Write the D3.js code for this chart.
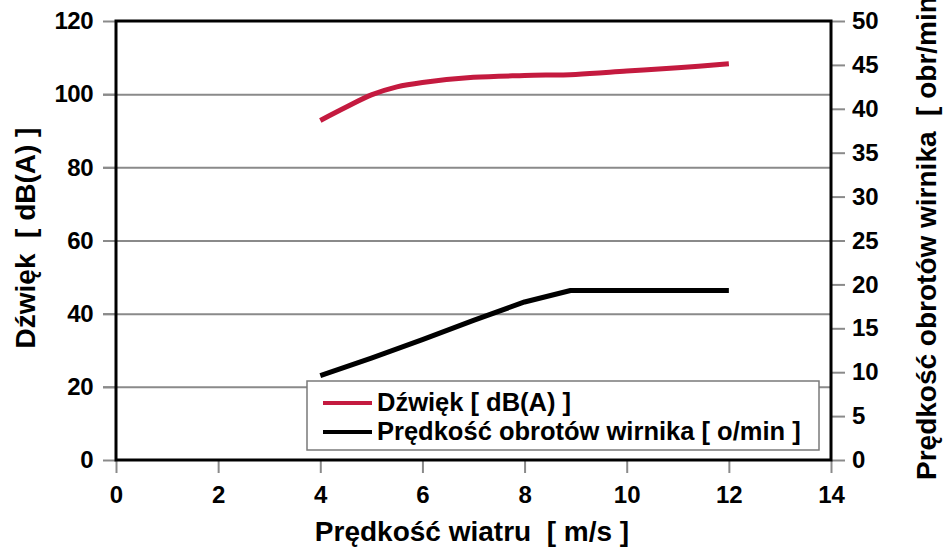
<!DOCTYPE html>
<html><head><meta charset="utf-8">
<script src="https://cdn.jsdelivr.net/npm/d3@7"></script>
<style>
html,body{margin:0;padding:0;background:#fff;}
svg{display:block;font-family:"Liberation Sans",Arial,sans-serif;font-weight:bold;}
</style></head>
<body>
<svg id="chart" width="947" height="548"></svg>
<script>
// Data
const windSpeed   = [4, 4.5, 5, 5.5, 6, 7, 8, 9, 10, 11, 12];
const soundDb     = [92.8, 96.4, 99.8, 102.0, 103.2, 104.6, 105.1, 105.4, 106.3, 107.2, 108.3];
const rotorWind   = [4, 5, 6, 7, 8, 8.9, 10, 11, 12];
const rotorSpeed  = [9.6, 11.6, 13.7, 15.9, 18.0, 19.3, 19.3, 19.3, 19.3];
const xTicks      = [0, 2, 4, 6, 8, 10, 12, 14];
const yLeftTicks  = [0, 20, 40, 60, 80, 100, 120];
const yRightTicks = [0, 5, 10, 15, 20, 25, 30, 35, 40, 45, 50];
const seriesNames = ["Dźwięk [ dB(A) ]", "Prędkość obrotów wirnika [ o/min ]"];
const xTitle = "Prędkość wiatru  [ m/s ]";
const yLeftTitle = "Dźwięk  [ dB(A) ]";
const yRightTitle = "Prędkość obrotów wirnika  [ obr/min ]";

const L = 116, R = 831, T = 21, B = 460;
const svg = d3.select("#chart");
const x = d3.scaleLinear().domain([0, 14]).range([L, R]);
const yL = d3.scaleLinear().domain([0, 120]).range([B, T]);
const yR = d3.scaleLinear().domain([0, 50]).range([B, T]);

const gridCol = "#8a8a8a";

// gridlines (left axis values)
svg.append("g").attr("transform", `translate(${R},0)`)
  .call(d3.axisLeft(yL).tickValues(yLeftTicks.filter(v => v > 0 && v < 120)).tickSize(R - L + 13).tickFormat(""))
  .call(g => g.select(".domain").remove())
  .call(g => g.selectAll("line").attr("stroke", gridCol).attr("stroke-width", 2));

// left axis
const gl = svg.append("g").attr("transform", `translate(${L},0)`)
  .call(d3.axisLeft(yL).tickValues(yLeftTicks).tickSize(13).tickPadding(10));
gl.select(".domain").remove();
gl.selectAll("line").attr("stroke", gridCol).attr("stroke-width", 2);
gl.selectAll("text").attr("font-size", 24).attr("font-family", null).attr("fill", "#000").style("letter-spacing", "-0.5px");

// right axis
const gr = svg.append("g").attr("transform", `translate(${R},0)`)
  .call(d3.axisRight(yR).tickValues(yRightTicks).tickSize(14).tickPadding(7));
gr.select(".domain").remove();
gr.selectAll("line").attr("stroke", gridCol).attr("stroke-width", 2);
gr.selectAll("text").attr("font-size", 24).attr("font-family", null).attr("fill", "#000");

// bottom axis
const gb = svg.append("g").attr("transform", `translate(0,${B})`)
  .call(d3.axisBottom(x).tickValues(xTicks).tickSize(13));
gb.select(".domain").remove();
gb.selectAll("line").attr("stroke", gridCol).attr("stroke-width", 2);
gb.selectAll("text").attr("font-size", 24).attr("font-family", null).attr("fill", "#000")
  .attr("y", 43).attr("dy", 0);

// frame
svg.append("rect").attr("x", L).attr("y", T).attr("width", R - L).attr("height", B - T)
  .attr("fill", "none").attr("stroke", "#000").attr("stroke-width", 3);

// series
const redCol = "#c41a3f";
svg.append("path").datum(windSpeed.map((w, i) => [w, soundDb[i]]))
  .attr("fill", "none").attr("stroke", redCol).attr("stroke-width", 5).attr("stroke-linecap", "butt")
  .attr("d", d3.line().x(d => x(d[0])).y(d => yL(d[1])).curve(d3.curveCatmullRom.alpha(0.5)));

svg.append("path").datum(rotorWind.map((w, i) => [w, rotorSpeed[i]]))
  .attr("fill", "none").attr("stroke", "#000").attr("stroke-width", 5).attr("stroke-linejoin", "round")
  .attr("d", d3.line().x(d => x(d[0])).y(d => yR(d[1])));

// legend
const lg = svg.append("g");
lg.append("rect").attr("x", 307).attr("y", 381).attr("width", 512).attr("height", 69)
  .attr("fill", "#fff").attr("stroke", "#7a7a7a").attr("stroke-width", 1.5);
const legCols = [redCol, "#000"];
seriesNames.forEach((n, i) => {
  const cy = 403 + i * 29;
  lg.append("line").attr("x1", 323).attr("x2", 372).attr("y1", cy).attr("y2", cy)
    .attr("stroke", legCols[i]).attr("stroke-width", 4);
  lg.append("text").attr("x", 377).attr("y", cy + 7.5).attr("font-size", 25.5).text(n);
});

// titles
svg.append("text").attr("x", 472).attr("y", 541).attr("text-anchor", "middle")
  .attr("font-size", 28).style("white-space", "pre").text(xTitle);
svg.append("text").attr("transform", "translate(35,238) rotate(-90)").attr("text-anchor", "middle")
  .attr("font-size", 28).style("white-space", "pre").text(yLeftTitle);
svg.append("text").attr("transform", "translate(936,480) rotate(-90)").attr("text-anchor", "start")
  .attr("font-size", 28).style("white-space", "pre").text(yRightTitle);
</script>
</body></html>
